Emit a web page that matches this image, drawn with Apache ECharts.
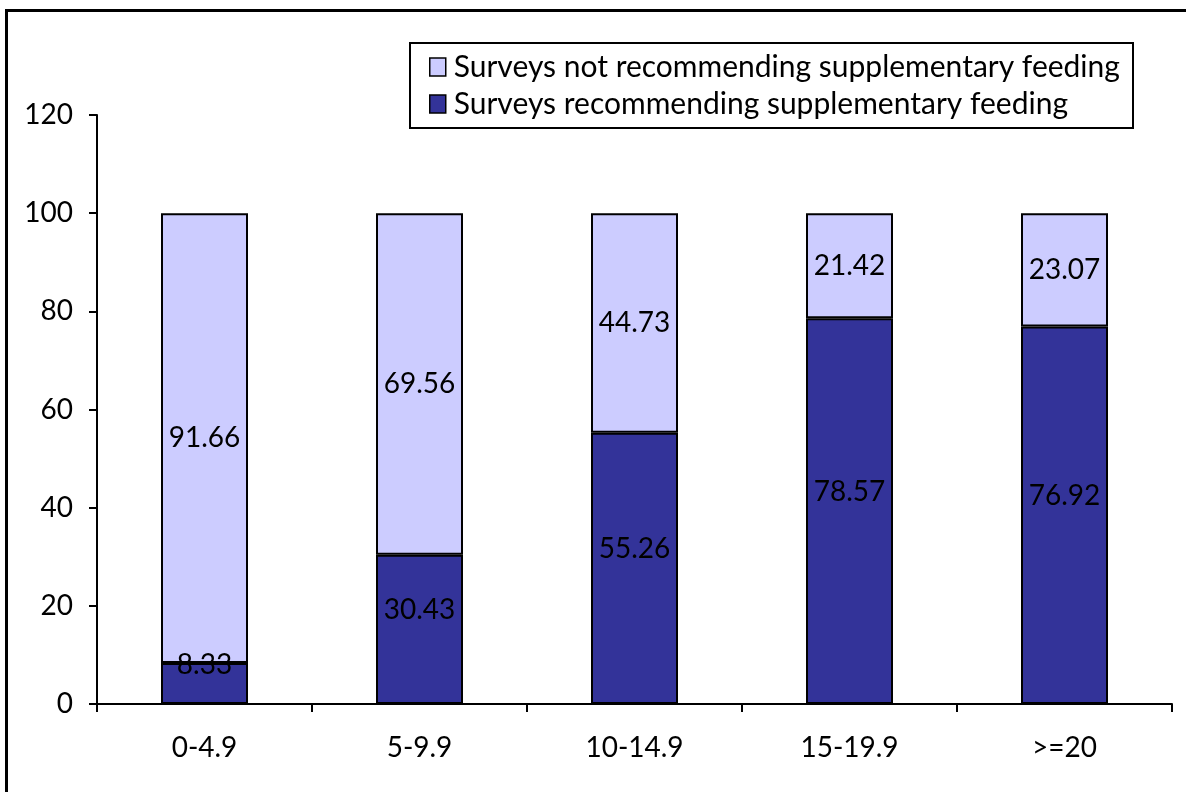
<!DOCTYPE html>
<html><head><meta charset="utf-8">
<script src="https://cdn.jsdelivr.net/npm/echarts@6/dist/echarts.min.js"></script>
<style>html,body{margin:0;padding:0;background:#fff}#c{width:1186px;height:792px}</style>
</head><body><div id="c"></div>
<script>
const categories = ['0-4.9', '5-9.9', '10-14.9', '15-19.9', '>=20'];
const recommending = [8.33, 30.43, 55.26, 78.57, 76.92];
const notRecommending = [91.66, 69.56, 44.73, 21.42, 23.07];
const nameRec = 'Surveys recommending supplementary feeding';
const nameNot = 'Surveys not recommending supplementary feeding';
const FONT = 'Lato';

const chart = echarts.init(document.getElementById('c'), null, {renderer: 'canvas'});
chart.setOption({
  animation: false,
  backgroundColor: '#fff',
  textStyle: {fontFamily: FONT},
  grid: {left: 97, right: 14, top: 115, bottom: 88, containLabel: false},
  graphic: [
    {type: 'rect', shape: {x: 6.5, y: 10.5, width: 1300, height: 900}, style: {fill: 'none', stroke: '#000', lineWidth: 3}, silent: true},
    {type: 'rect', shape: {x: 410, y: 43, width: 723, height: 85}, style: {fill: '#fff', stroke: '#000', lineWidth: 2}, silent: true, z: 0}
  ],
  legend: {
    orient: 'vertical', left: 424, top: 47, z: 10,
    data: [nameNot, nameRec],
    itemWidth: 16, itemHeight: 18, itemGap: 7,
    icon: 'rect',
    textStyle: {fontFamily: FONT, fontSize: 30, color: '#000', lineHeight: 30, padding: [0, 0, 0, 3]},
    itemStyle: {borderColor: '#000', borderWidth: 1.5}
  },
  xAxis: {
    type: 'category', data: categories,
    axisLine: {lineStyle: {color: '#000', width: 2}},
    axisTick: {show: true, length: 8, lineStyle: {color: '#000', width: 2}},
    axisLabel: {fontFamily: FONT, fontSize: 28, color: '#000', margin: 30}
  },
  yAxis: {
    type: 'value', min: 0, max: 120, interval: 20,
    axisLine: {show: true, lineStyle: {color: '#000', width: 2}},
    axisTick: {show: true, length: 8, lineStyle: {color: '#000', width: 2}},
    splitLine: {show: false},
    axisLabel: {fontFamily: FONT, fontSize: 28, color: '#000', margin: 24}
  },
  series: [
    {
      name: nameRec, type: 'bar', stack: 's', data: recommending, barWidth: 87,
      itemStyle: {color: '#333399', borderColor: '#000', borderWidth: 2},
      label: {show: true, position: 'inside', offset: [0, -19], color: '#000', fontFamily: FONT, fontSize: 28}
    },
    {
      name: nameNot, type: 'bar', stack: 's', data: notRecommending, barWidth: 87,
      itemStyle: {color: '#CCCCFF', borderColor: '#000', borderWidth: 2},
      label: {show: true, position: 'inside', color: '#000', fontFamily: FONT, fontSize: 28}
    }
  ]
});
</script></body></html>
